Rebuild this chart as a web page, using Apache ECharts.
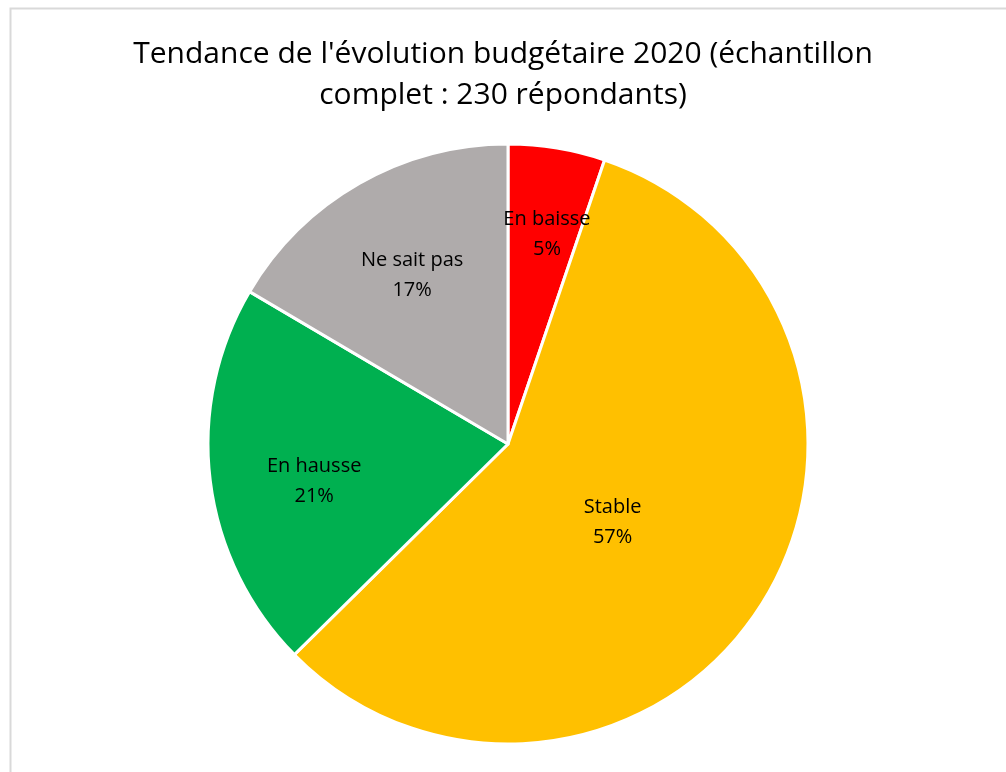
<!DOCTYPE html>
<html>
<head>
<meta charset="utf-8">
<script src="https://cdn.jsdelivr.net/npm/echarts@6/dist/echarts.min.js"></script>
<style>
html, body { margin: 0; padding: 0; background: #fff; }
#chart { width: 1006px; height: 772px; }
</style>
</head>
<body>
<div id="chart"></div>
<script>
// répondants par tendance (230 au total)
var categories = ['En baisse', 'Stable', 'En hausse', 'Ne sait pas'];
var counts = [12, 132, 48, 38];
var colors = ['#ff0000', '#ffc000', '#00b050', '#afabab'];
// décalage des étiquettes (style, pas des données)
var labelOffsets = [[14, -59], [-25, -3], [-42, 19], [-20, -36]];

var chart = echarts.init(document.getElementById('chart'));
chart.setOption({
    animation: false,
    title: {
        text: "Tendance de l'évolution budgétaire 2020 (échantillon\ncomplet : 230 répondants)",
        left: 'center',
        top: 29,
        textStyle: {
            fontFamily: 'Open Sans',
            fontSize: 30,
            fontWeight: 'normal',
            color: '#000',
            lineHeight: 41
        }
    },
    graphic: [{
        type: 'rect',
        shape: { x: 10.5, y: 8.5, width: 1010, height: 780 },
        style: { fill: 'none', stroke: '#d9d9d9', lineWidth: 2 },
        silent: true
    }],
    series: [{
        type: 'pie',
        center: [508, 444],
        radius: 300,
        startAngle: 90,
        clockwise: true,
        percentPrecision: 0,
        itemStyle: { borderColor: '#fff', borderWidth: 3 },
        label: {
            position: 'inside',
            formatter: '{b}\n{d}%',
            fontFamily: 'Open Sans',
            fontSize: 20,
            lineHeight: 30,
            color: '#000'
        },
        labelLine: { show: false },
        emphasis: { disabled: true },
        data: categories.map(function (c, i) {
            return {
                name: c,
                value: counts[i],
                itemStyle: { color: colors[i] },
                label: { offset: labelOffsets[i] }
            };
        })
    }]
});
</script>
</body>
</html>
